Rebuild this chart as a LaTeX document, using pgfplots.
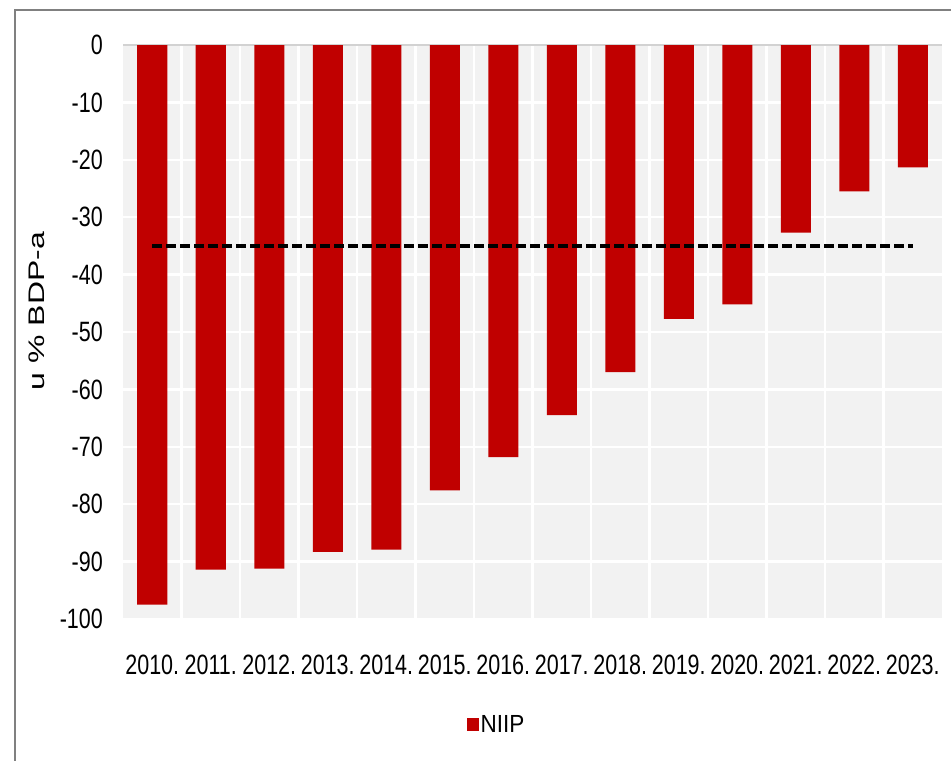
\documentclass[border=0pt]{standalone}
\usepackage{fontspec}
\setmainfont{Liberation Sans}
\usepackage{pgfplots}
\pgfplotsset{compat=1.18}
\definecolor{barred}{HTML}{C00000}
\definecolor{bggray}{HTML}{F2F2F2}
\definecolor{framegray}{HTML}{808080}
\begin{document}
\begin{tikzpicture}[x=1bp,y=1bp]
\path[use as bounding box, fill=white] (0,0) rectangle (951,-761);
\draw[framegray, line width=1.5bp] (15,-761) -- (15,-10) -- (951,-10);
\node[rotate=90, font=\fontsize{22.5bp}{27bp}\selectfont, inner sep=0] at (36.5,-311) {\scalebox{1.42}[1]{u \% BDP-a}};
\begin{axis}[
  at={(123bp,-619bp)}, anchor=south west,
  scale only axis, width=819bp, height=574bp,
  xmin=-0.5, xmax=13.5, ymin=-100, ymax=0,
  axis line style={draw=none},
  axis background/.style={fill=bggray},
  xtick={0,...,13},
  xticklabels={2010.,2011.,2012.,2013.,2014.,2015.,2016.,2017.,2018.,2019.,2020.,2021.,2022.,2023.},
  ytick={-100,-90,...,0},
  minor xtick={0.5,1.5,...,12.5},
  xminorgrids, ymajorgrids,
  grid style={white, line width=2.5bp},
  minor grid style={white, line width=2.5bp},
  major tick length=0pt, minor tick length=0pt,
  tick style={draw=none},
  ticklabel style={font=\fontsize{21.5bp}{25bp}\selectfont, inner sep=0pt, yscale=1.3},
  /pgf/number format/assume math mode=true,
  yticklabel style={anchor=east, xshift=-20bp},
  xticklabel style={anchor=base, yshift=-43bp},
  clip=false,
  legend style={draw=none, fill=none, at={(axis description cs:0.4194,-0.184)}, anchor=west,
    inner sep=0pt, font=\fontsize{22.5bp}{26bp}\selectfont,
    /tikz/every even column/.append style={column sep=2bp}},
]
\draw[gray!35, line width=2bp] (axis cs:-0.5,0) -- (axis cs:13.5,0);
\addplot[ybar, bar width=0.513, fill=barred, draw=none,
  legend image code/.code={\fill[barred] (0bp,-6.5bp) rectangle (12bp,6.5bp);}]
  coordinates {
  (0,-97.5) (1,-91.4) (2,-91.2) (3,-88.3) (4,-87.9) (5,-77.6) (6,-71.8)
  (7,-64.5) (8,-57.0) (9,-47.7) (10,-45.2) (11,-32.7) (12,-25.5) (13,-21.3)};
\addlegendentry{\scalebox{1}[1.1]{NIIP}}
\addplot[forget plot, black, line width=4bp, dash pattern=on 10bp off 4bp]
  coordinates {(0,-35) (13,-35)};
\end{axis}
\end{tikzpicture}
\end{document}
